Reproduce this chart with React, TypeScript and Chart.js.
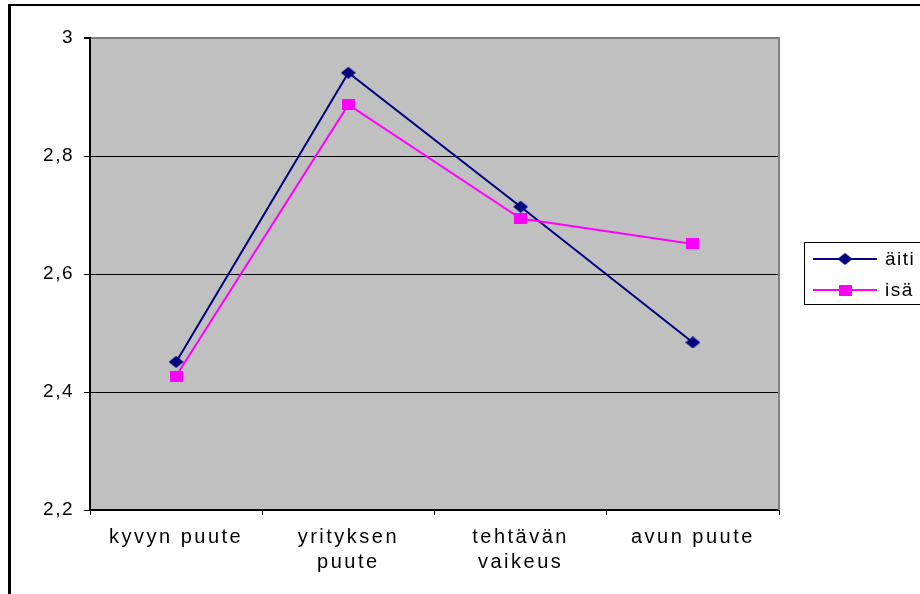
import React, { useEffect, useRef } from 'react';
import { Chart, registerables } from 'chart.js';

Chart.register(...registerables);

const categories: (string | string[])[] = ['kyvyn puute', ['yrityksen', 'puute'], ['tehtävän', 'vaikeus'], 'avun puute'];
const seriesNames = ['äiti', 'isä'];
const aitiValues = [2.451, 2.941, 2.714, 2.484];
const isaValues = [2.427, 2.887, 2.694, 2.651];
const yTicks = [2.2, 2.4, 2.6, 2.8, 3];

const FONT = 'Liberation Sans, Arial, sans-serif';
const NAVY = '#000080';
const MAGENTA = '#FF00FF';

function makeDiamond(color: string): HTMLCanvasElement {
  const c = document.createElement('canvas');
  c.width = 15;
  c.height = 12;
  const x = c.getContext('2d')!;
  x.fillStyle = color;
  x.beginPath();
  x.moveTo(7.5, 0);
  x.lineTo(15, 6);
  x.lineTo(7.5, 12);
  x.lineTo(0, 6);
  x.closePath();
  x.fill();
  return c;
}

function makeSquare(color: string): HTMLCanvasElement {
  const c = document.createElement('canvas');
  c.width = 13;
  c.height = 11;
  const x = c.getContext('2d')!;
  x.fillStyle = color;
  x.fillRect(0, 0, 13, 11);
  return c;
}

const fmt = (v: number) => String(Math.round(v * 10) / 10).replace('.', ',');

export default function App() {
  const ref = useRef<HTMLCanvasElement>(null);

  useEffect(() => {
    if (!ref.current) return;
    const markers = [makeDiamond(NAVY), makeSquare(MAGENTA)];
    const colors = [NAVY, MAGENTA];

    const framePlugin = {
      id: 'frame',
      beforeDraw(chart: any) {
        const ctx = chart.ctx;
        (ctx as any).letterSpacing = '1.5px';
        const a = chart.chartArea;
        ctx.save();
        ctx.fillStyle = '#C0C0C0';
        ctx.fillRect(a.left, a.top, a.right - a.left, a.bottom - a.top);
        ctx.restore();
      },
      beforeDatasetsDraw(chart: any) {
        const ctx = chart.ctx;
        const a = chart.chartArea;
        ctx.save();
        ctx.fillStyle = '#808080';
        ctx.fillRect(a.right - 1, a.top - 1, 2, a.bottom - a.top + 1);
        ctx.restore();
      },
      afterDatasetsDraw(chart: any) {
        (chart.ctx as any).letterSpacing = '2.5px';
      },
      afterDraw(chart: any) {
        const ctx = chart.ctx;
        ctx.save();
        (ctx as any).letterSpacing = '1.5px';
        // outer frame
        ctx.fillStyle = '#000';
        ctx.fillRect(8, 4, 3, 590);
        ctx.fillRect(8, 4, 912, 2);
        // legend
        ctx.strokeStyle = '#000';
        ctx.lineWidth = 1;
        ctx.strokeRect(804.5, 242.5, 200, 62);
        const ys = [259, 290];
        chart.data.datasets.forEach((ds: any, i: number) => {
          const y = ys[i];
          ctx.strokeStyle = colors[i];
          ctx.lineWidth = 2;
          ctx.beginPath();
          ctx.moveTo(813, y);
          ctx.lineTo(877, y);
          ctx.stroke();
          const m = markers[i];
          ctx.drawImage(m, 845 - m.width / 2, y - m.height / 2);
          ctx.fillStyle = '#000';
          ctx.font = `19px ${FONT}`;
          ctx.textBaseline = 'middle';
          ctx.textAlign = 'left';
          ctx.fillText(ds.label, 885, y + 1);
        });
        ctx.restore();
      },
    };

    const chart = new Chart(ref.current, {
      type: 'line',
      data: {
        labels: categories as any,
        datasets: [
          {
            label: seriesNames[0],
            data: aitiValues,
            borderColor: NAVY,
            backgroundColor: NAVY,
            borderWidth: 2,
            pointStyle: markers[0] as any,
            pointRadius: 7,
            tension: 0,
            order: 2,
          },
          {
            label: seriesNames[1],
            data: isaValues,
            borderColor: MAGENTA,
            backgroundColor: MAGENTA,
            borderWidth: 2,
            pointStyle: markers[1] as any,
            pointRadius: 7,
            tension: 0,
            order: 1,
          },
        ],
      },
      options: {
        responsive: false,
        animation: false,
        events: [],
        layout: { padding: { left: 10, top: 38, right: 141, bottom: 0 } },
        plugins: {
          legend: { display: false },
          tooltip: { enabled: false },
          title: { display: false },
        },
        scales: {
          x: {
            type: 'category',
            offset: true,
            afterFit: (s: any) => {
              s.height = 84;
            },
            grid: {
              drawOnChartArea: false,
              drawTicks: true,
              tickLength: 5,
              color: '#000',
              offset: true,
            },
            border: { color: '#000', width: 2 },
            ticks: {
              z: 1,
              color: '#000',
              maxRotation: 0,
              minRotation: 0,
              autoSkip: false,
              padding: 10,
              font: { family: FONT, size: 20, lineHeight: 1.25 },
            },
          },
          y: {
            type: 'linear',
            min: 2.2,
            max: 3,
            afterFit: (s: any) => {
              s.width = 80;
            },
            afterBuildTicks: (s: any) => {
              s.ticks = yTicks.map((v) => ({ value: v }));
            },
            grid: {
              color: (c: any) => (c.tick && c.tick.value >= 2.999 ? '#808080' : '#000'),
              lineWidth: (c: any) => (c.tick && c.tick.value >= 2.999 ? 2 : 1),
              tickColor: '#000',
              tickLength: 6,
              drawTicks: true,
            },
            border: { color: '#000', width: 2 },
            ticks: {
              color: '#000',
              padding: 10,
              font: { family: FONT, size: 19 },
              callback: (v: any) => fmt(Number(v)),
            },
          },
        },
      },
      plugins: [framePlugin],
    });
    return () => chart.destroy();
  }, []);

  return (
    <div style={{ position: 'fixed', left: 0, top: 0, width: 920, height: 594, background: '#fff' }}>
      <canvas ref={ref} width={920} height={594} style={{ display: 'block', width: 920, height: 594 }} />
    </div>
  );
}
